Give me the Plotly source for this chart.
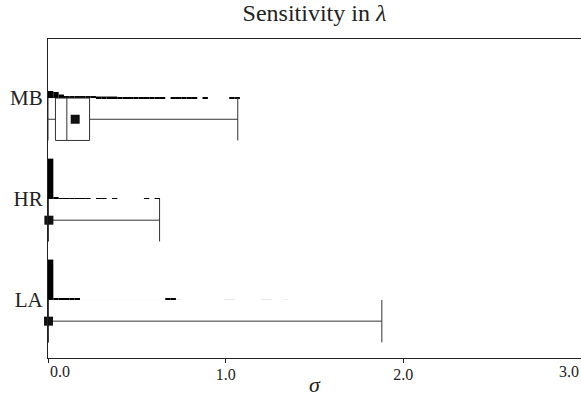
import plotly.graph_objects as go

# ---------------- data ----------------
methods = ["LA", "HR", "MB"]
positions = [0, 1, 2]

# box statistics of sigma per method
lower_fence = [0.0, 0.0, 0.0]
q1 = [0.0, 0.0, 0.042]
median = [0.0, 0.0, 0.106]
q3 = [0.0, 0.0, 0.234]
upper_fence = [1.879, 0.628, 1.068]
mean = [0.003, 0.005, 0.153]

# histogram of sigma (bin width BIN, starting at 0), relative heights
BIN = 0.03
hist_LA = [40, 1, 1, 1, 1, 1,
           0.12, 0.12, 0.12, 0.12, 0.12, 0.12, 0.12, 0.12,
           0.12, 0.12, 0.12, 0.12, 0.12, 0.12, 0.12, 0.12,
           1, 1, 0.3, 0, 0, 0, 0, 0, 0, 0, 0, 0.3, 0.3,
           0, 0, 0, 0, 0, 0.3, 0.3, 0, 0, 0.25]
hist_HR = [40, 1.5, 1, 1, 1, 1, 1, 1, 0, 1, 1, 0, 1,
           0, 0, 0, 0, 0, 1, 0, 1]
hist_MB = [7, 6, 3.5, 2, 2, 2, 2, 2, 2, 1.5, 1.5, 1.5, 1.5,
           1, 1, 1, 1, 1, 1, 1, 1, 1, 0, 1, 1, 1, 1, 1, 0, 1,
           0, 0, 0, 0, 1, 1]
hists = [hist_LA, hist_HR, hist_MB]

x_ticks = [0, 1, 2, 3]
x_tick_labels = ["0.0", "1.0", "2.0", "3.0"]

# ---------------- style ----------------
FONT = "Liberation Serif"
HIST_SCALE = 0.4 / 40      # max histogram height = 0.4 band units
BOX_OFFSET = 0.21
BOX_WIDTH = 0.42
INK = "#222222"
TICK_SIZE = 16

fig = go.Figure()

for pos, h in zip(positions, hists):
    xs, ys, cols = [], [], []
    for i, v in enumerate(h):
        if v <= 0:
            continue
        xs.append((i + 0.5) * BIN)
        ys.append(v * HIST_SCALE)
        cols.append("rgba(0,0,0,%.3f)" % min(1.0, v))
    fig.add_trace(go.Bar(x=xs, y=ys, base=pos, width=BIN,
                         marker=dict(color=cols, line=dict(width=0)),
                         hoverinfo="skip"))

box_y = [p - BOX_OFFSET for p in positions]
fig.add_trace(go.Box(y=box_y, orientation="h",
                     q1=q1, median=median, q3=q3,
                     lowerfence=lower_fence, upperfence=upper_fence,
                     width=BOX_WIDTH, whiskerwidth=1, boxpoints=False,
                     line=dict(color="#333333", width=1),
                     fillcolor="rgba(0,0,0,0)"))

fig.add_trace(go.Scatter(x=mean, y=box_y, mode="markers",
                         marker=dict(symbol="square", size=9, color="#111111"),
                         cliponaxis=False))

fig.update_layout(
    width=581, height=397,
    margin=dict(l=48, r=0, t=39, b=39),
    paper_bgcolor="white", plot_bgcolor="white",
    showlegend=False, barmode="overlay", boxmode="overlay",
    font=dict(family=FONT, color=INK),
    title=dict(text="Sensitivity in <i>λ</i>", x=0.5, xref="paper",
               y=1 - 13 / 397, yanchor="middle", xanchor="center",
               font=dict(family=FONT, size=24, color=INK)),
    xaxis=dict(range=[0, 3], tickvals=x_ticks,
               ticktext=["", x_tick_labels[1], x_tick_labels[2], ""],
               ticks="outside", ticklen=4, tickcolor=INK,
               ticklabelstandoff=-2,
               showline=True, linecolor=INK, linewidth=1, mirror=True,
               showgrid=False, zeroline=False,
               tickfont=dict(family=FONT, size=TICK_SIZE, color=INK),
               title=dict(text="<i>σ</i>", standoff=0,
                          font=dict(family=FONT, size=22, color=INK)),
               automargin=False),
    yaxis=dict(type="linear", range=[-0.575, 2.585],
               tickvals=positions, ticktext=methods,
               ticks="", ticklen=0,
               showline=True, linecolor=INK, linewidth=1,
               showgrid=False, zeroline=False,
               tickfont=dict(family=FONT, size=21, color=INK),
               automargin=False),
    annotations=[
        dict(x=x_ticks[0], y=0, xref="x", yref="paper", text=x_tick_labels[0],
             xanchor="left", yanchor="top", yshift=-3, showarrow=False,
             font=dict(family=FONT, size=TICK_SIZE, color=INK)),
        dict(x=x_ticks[3], y=0, xref="x", yref="paper", text=x_tick_labels[3],
             xanchor="right", yanchor="top", yshift=-3, showarrow=False,
             font=dict(family=FONT, size=TICK_SIZE, color=INK)),
    ],
)

fig.write_html("out.html",
               config={"displayModeBar": False},
               post_script="document.body.style.margin='0';"
                           "document.body.style.padding='0';")
